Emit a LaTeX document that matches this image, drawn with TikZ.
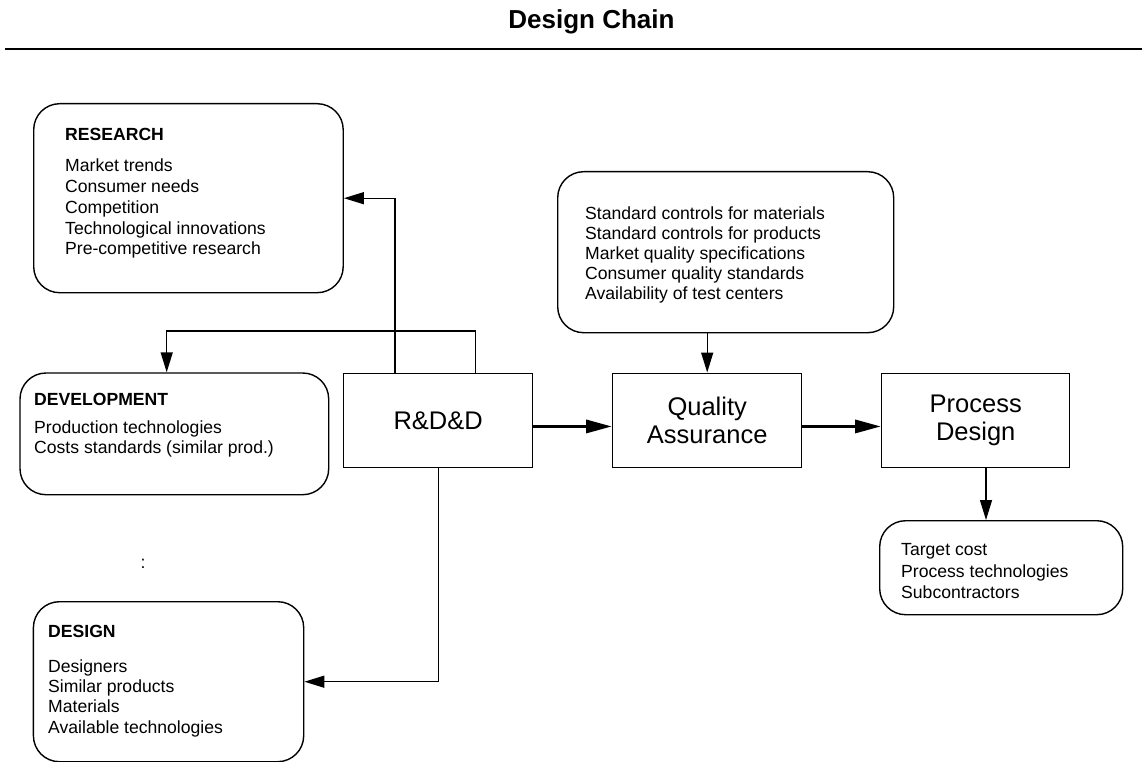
\documentclass[tikz,border=0pt]{standalone}
\usepackage{fontspec}
\setmainfont{Liberation Sans}
\usetikzlibrary{arrows.meta}

\begin{document}
\begin{tikzpicture}[x=1pt,y=-1pt,
  box/.style={draw,line width=1.4pt,inner sep=0pt,anchor=north west},
  roundbox/.style={box,rounded corners=26pt},
  body/.style={inner sep=0pt,anchor=north west,align=left,
    font=\fontsize{17.6}{20.5}\selectfont},
  big/.style={align=center,font=\fontsize{25.5}{28}\selectfont},
  arr/.style={line width=1.4pt,-{Triangle[length=20pt,width=12pt]}},
  thickarr/.style={line width=3.4pt,-{Triangle[length=26pt,width=13pt]}}]

\useasboundingbox (0,0) rectangle (1142,762);

% heading and rule
\node[font=\fontsize{26}{30}\selectfont\bfseries] (title) at (591.5,21.5) {Design Chain};
\draw[line width=2pt] (5,49) -- (1142,49);

% rounded information boxes
\node[roundbox,minimum width=309.5pt,minimum height=189pt] (research) at (33,103) {};
\node[roundbox,minimum width=308.7pt,minimum height=121.7pt] (dev) at (19.3,372.3) {};
\node[roundbox,minimum width=270.3pt,minimum height=160pt] (design) at (32.7,601) {};
\node[roundbox,minimum width=336pt,minimum height=161pt] (standards) at (557,171) {};
\node[roundbox,minimum width=243pt,minimum height=94pt] (target) at (879,520) {};

% main chain
\node[box,minimum width=189pt,minimum height=94.5pt] (rdd) at (343,372.5) {};
\node[big] (rddtxt) at (rdd.center) {R\&D\&D};
\node[box,minimum width=189pt,minimum height=94.5pt] (qa) at (612,372.5) {};
\node[big] (qatxt) at (qa.center) {Quality\\Assurance};
\node[box,minimum width=188pt,minimum height=94.5pt] (pd) at (881,372.5) {};
\node[big] (pdtxt) at (pd.center) {Process\\Design};

% box contents
\node[body,font=\fontsize{17.6}{20.8}\selectfont] (researchtxt) at (65,127.7)
  {\textbf{RESEARCH}\\[10.8pt]Market trends\\Consumer needs\\Competition\\Technological innovations\\Pre-competitive research};
\node[body,font=\fontsize{17.6}{20.3}\selectfont] (devtxt) at (34,393.2)
  {\textbf{DEVELOPMENT}\\[7.7pt]Production technologies\\Costs standards (similar prod.)};
\node[body,font=\fontsize{17.6}{20.2}\selectfont] (designtxt) at (48,625.4)
  {\textbf{DESIGN}\\[14.4pt]Designers\\Similar products\\Materials\\Available technologies};
\node[body,font=\fontsize{17.6}{20}\selectfont] (standardstxt) at (585,206.7)
  {Standard controls for materials\\Standard controls for products\\Market quality specifications\\Consumer quality standards\\Availability of test centers};
\node[body,font=\fontsize{17.6}{21.5}\selectfont] (targettxt) at (901,543.3)
  {Target cost\\Process technologies\\Subcontractors};
\node[font=\fontsize{17.6}{20.5}\selectfont] (colon) at (143,564) {:};

% routing columns
\coordinate (upA) at (395,0);
\coordinate (upB) at (475.7,0);
\coordinate (devjoin) at (166.7,331);
\coordinate (pdcol) at (986,0);

% connectors
\draw[arr] (rdd.north -| upA) |- (research.east);
\draw[arr] (rdd.north -| upB) |- (devjoin) -- (devjoin |- dev.north);
\draw[arr] (rdd.south) |- (design.east);
\draw[arr] (standards.south -| qa.north) -- (qa.north);
\draw[arr] (pd.south -| pdcol) -- (target.north -| pdcol);
\draw[thickarr] ([yshift=-6pt]rdd.east) -- ([yshift=-6pt]qa.west);
\draw[thickarr] ([yshift=-6pt]qa.east) -- ([yshift=-6pt]pd.west);
\end{tikzpicture}
\end{document}
